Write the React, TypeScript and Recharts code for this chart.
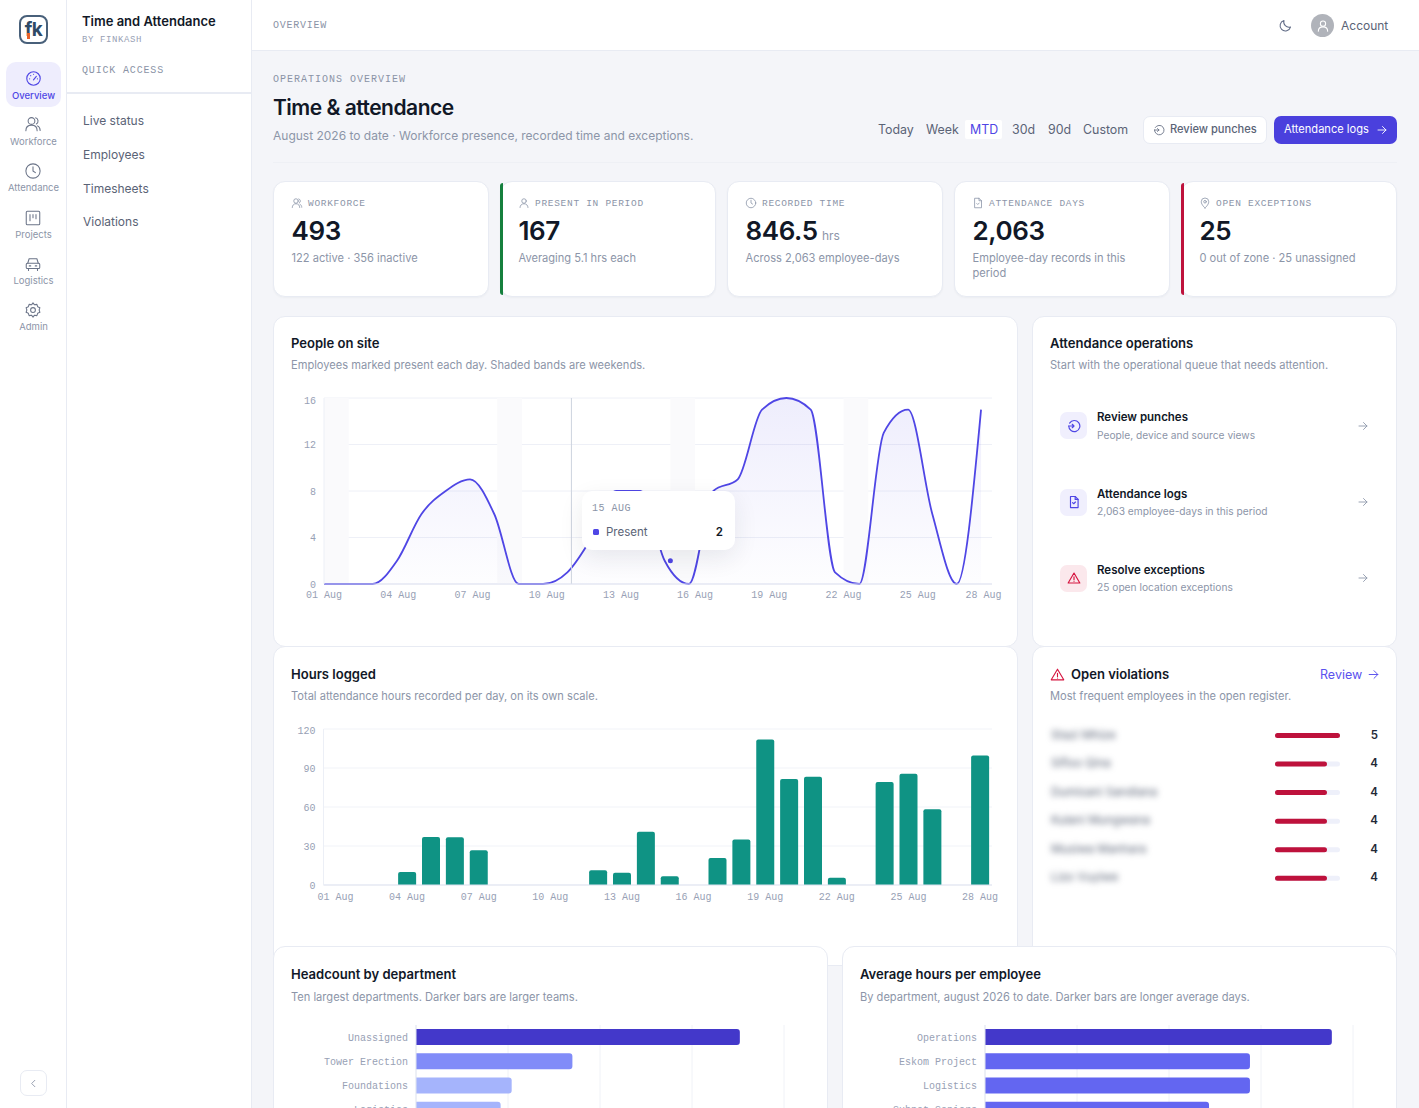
import React from 'react';
import {
  AreaChart, Area, BarChart, Bar, Cell, XAxis, YAxis, CartesianGrid,
  ReferenceArea, ReferenceLine, ReferenceDot,
} from 'recharts';

const dayLabels = ['01 Aug','02 Aug','03 Aug','04 Aug','05 Aug','06 Aug','07 Aug','08 Aug','09 Aug','10 Aug','11 Aug','12 Aug','13 Aug','14 Aug','15 Aug','16 Aug','17 Aug','18 Aug','19 Aug','20 Aug','21 Aug','22 Aug','23 Aug','24 Aug','25 Aug','26 Aug','27 Aug','28 Aug'];
const presentValues = [0,0,0,2,6,8,9,6,0,0,1,4,8,8,2,0,8,9,15,16,15,1,0,13,15,6,0,15];
const hoursValues = [0,0,0,10,37,36.7,26.7,0,0,0,0,11.3,9.5,41,6.7,0,20.8,35,112,81.5,83.3,5.6,0,79.2,85.6,58.2,0,99.7];
const presentTicks = [0,4,8,12,16];
const hoursTicks = [0,30,60,90,120];
const dayTickIndexes = [0,3,6,9,12,15,18,21,24,27];
const weekendStarts = [0,7,14,21];
const cursorIndex = 10;
const tooltipIndex = 14;

const headcountDepartments = ['Unassigned','Tower Erection','Foundations','Logistics'];
const headcountValues = [176,85,52,46];
const headcountColors = ['#4338ca','#818cf8','#a5b4fc','#a5b4fc'];
const headcountTicks = [0,50,100,150,200];

const avgDepartments = ['Operations','Eskom Project','Logistics','Subnet Seniors'];
const avgValues = [7.54,5.76,5.76,4.87];
const avgColors = ['#4338ca','#6366f1','#6366f1','#6366f1'];
const avgTicks = [0,2,4,6,8];

const violationNames = ['Stazi Mhize','Sifiso Qina','Dumisani Sandlana','Kulani Mungwana','Musiwa Manhara','Lizo Vuyiwe'];
const violationCounts = [5,4,4,4,4,4];

const presentData = dayLabels.map((day, i) => ({ idx: i, day, present: presentValues[i] }));
const hoursData = dayLabels.map((day, i) => ({ day, hours: hoursValues[i] }));
const headcountData = headcountDepartments.map((name, i) => ({ name, value: headcountValues[i] }));
const avgData = avgDepartments.map((name, i) => ({ name, value: avgValues[i] }));
const violationData = violationNames.map((name, i) => ({ name, count: violationCounts[i] }));

const SANS = 'Inter, "Noto Sans", sans-serif';
const MONO = '"Liberation Mono", "DejaVu Sans Mono", monospace';
const INK = '#111827';
const MUTED = '#8c95a8';
const BODY = '#5a6376';
const INDIGO = '#4f46e5';
const BORDER = '#e8ebf3';
const TICK = '#98a1b5';
const TITLE = 13.05;
const SUB = 11.1;

type TProps = { x: number; y: number; size?: number; color?: string; weight?: number; mono?: boolean; ls?: number; right?: boolean; center?: boolean; style?: React.CSSProperties; children: React.ReactNode };
const T = ({ x, y, size = 12, color = INK, weight = 400, mono, ls = 0, right, center, style, children }: TProps) => (
  <div style={{
    position: 'absolute', left: x, top: y, whiteSpace: 'nowrap', lineHeight: 1,
    transform: `translate(${right ? '-100%' : center ? '-50%' : '0'}, -50%)`,
    fontSize: size, color, fontWeight: weight, letterSpacing: ls,
    fontFamily: mono ? MONO : SANS, ...style,
  }}>{children}</div>
);

const Box = ({ x, y, w, h, r = 12, bg = '#fff', border = BORDER, style }: any) => (
  <div style={{ position: 'absolute', left: x, top: y, width: w, height: h, boxSizing: 'border-box', background: bg, border: border ? `1px solid ${border}` : 'none', borderRadius: r, ...style }} />
);

const Ico = ({ x, y, s = 16, color = MUTED, sw = 1.6, children }: any) => (
  <svg width={s} height={s} viewBox="0 0 24 24" fill="none" stroke={color} strokeWidth={sw} strokeLinecap="round" strokeLinejoin="round"
    style={{ position: 'absolute', left: x - s / 2, top: y - s / 2 }}>{children}</svg>
);

const users = <><circle cx="10" cy="8" r="4.5" /><path d="M2.5 21c0-4.5 3-7.5 7.5-7.5s7.5 3 7.5 7.5" /><path d="M15.5 3.8a4.5 4.5 0 0 1 1 8.2M18 14.5c2.2 1 3.5 3.4 3.5 6" /></>;
const user = <><circle cx="12" cy="8" r="4.5" /><path d="M4 21c0-4.5 3.5-7.5 8-7.5s8 3 8 7.5" /></>;
const clock = <><circle cx="12" cy="12" r="9.5" /><path d="M12 6.5V12l3.2 2.2" /></>;
const file = <><path d="M6 2.5h8l5 5v14H6z" /><path d="M14 2.5v5h5M9.5 13l2 2 3-3" /></>;
const pin = <><path d="M12 22s7.5-6.5 7.5-12.5a7.5 7.5 0 0 0-15 0C4.5 15.5 12 22 12 22z" /><circle cx="12" cy="9.5" r="2.6" /></>;
const gauge = <><circle cx="12" cy="12" r="9.5" /><path d="M12 14l4-5M6.5 12.5h.1M8 8h.1M12 6h.1M17.5 12.5h.1" /></>;
const board = <><rect x="3" y="3" width="18" height="18" rx="1.5" /><path d="M8 7.5v8M12 7.5v4M16 7.5v5.5" /></>;
const car = <><path d="M5 11l1.8-6h10.4L19 11" /><rect x="3" y="11" width="18" height="7" rx="1.5" /><path d="M6 18v2.5M18 18v2.5M7 14.5h2M15 14.5h2" /></>;
const gear = <><circle cx="12" cy="12" r="3.2" /><path d="M12 2.5l2 2.6 3.2-.6 1 3.1 3 1.3-1 3.1 1 3.1-3 1.3-1 3.1-3.2-.6-2 2.6-2-2.6-3.2.6-1-3.1-3-1.3 1-3.1-1-3.1 3-1.3 1-3.1 3.2.6z" /></>;
const arrow = <path d="M4 12h16M13 5l7 7-7 7" />;
const history = <><path d="M4.5 7A9.5 9.5 0 1 1 3 12" /><path d="M3 12h9M9 9l3 3-3 3" /></>;
const warn = <><path d="M12 3.5L22 20.5H2z" /><path d="M12 10v5M12 17.6h.1" /></>;
const moon = <path d="M20 14.5A8.5 8.5 0 0 1 9.5 4a8.5 8.5 0 1 0 10.5 10.5z" />;
const chevron = <path d="M15 5l-7 7 7 7" />;

const navItems: [string, React.ReactNode, number, number][] = [
  ['Workforce', users, 124, 141.5],
  ['Attendance', clock, 171, 188],
  ['Projects', board, 218, 234.5],
  ['Logistics', car, 264, 281],
  ['Admin', gear, 310, 327],
];
const quickLinks: [string, number][] = [['Live status', 120.5], ['Employees', 154.5], ['Timesheets', 188.5], ['Violations', 221.5]];
const ranges: [string, number][] = [['Today', 878], ['Week', 926], ['30d', 1012], ['90d', 1048], ['Custom', 1083]];

const Kpi = ({ x, icon, label, value, unit, unitX, sub, sub2, accent }: any) => (
  <>
    <Box x={x} y={181} w={216} h={116} style={{ boxShadow: '0 1px 2px rgba(30,41,59,.04)' }} />
    {accent && <div style={{ position: 'absolute', left: x, top: 183, width: 3, height: 112, background: accent, borderRadius: '3px 0 0 3px' }} />}
    <Ico x={x + 24} y={203} s={12} color={MUTED} sw={1.6}>{icon}</Ico>
    <T x={x + 35} y={203.5} size={9.5} mono ls={0.7} color={MUTED}>{label}</T>
    <T x={x + 18.5} y={231} size={26} weight={600} ls={-0.4}>{value}</T>
    {unit && <T x={unitX} y={236} size={12} color={MUTED}>{unit}</T>}
    <T x={x + 18.5} y={259} size={SUB} color={MUTED}>{sub}</T>
    {sub2 && <T x={x + 18.5} y={274} size={SUB} color={MUTED}>{sub2}</T>}
  </>
);

const OpItem = ({ y, icon, bg, color, title, sub }: any) => (
  <>
    <div style={{ position: 'absolute', left: 1060, top: y - 13.5, width: 27, height: 27, borderRadius: 7, background: bg }} />
    <Ico x={1073.5} y={y} s={14} color={color} sw={2}>{icon}</Ico>
    <T x={1097} y={y - 7.5} size={11.5} weight={600}>{title}</T>
    <T x={1097} y={y + 9} size={10.2} color={MUTED}>{sub}</T>
    <Ico x={1363} y={y} s={12} color="#8f98ab" sw={1.8}>{arrow}</Ico>
  </>
);

const tickStyle = { fontFamily: MONO, fontSize: 10, fill: TICK };

// the last day label is pulled back inside the plot, as in the reference
const PresentTick = ({ x, y, payload }: any) => (
  <text x={payload.value === 27 ? x - 8.5 : x} y={y} textAnchor="middle" dominantBaseline="central" {...tickStyle}>
    {dayLabels[payload.value]}
  </text>
);

// the top value label sits just under its grid line, as in the reference
const topTick = (top: number, shift: number) => ({ x, y, payload }: any) => (
  <text x={x} y={payload.value === top ? y + shift : y + 1} textAnchor="end" dominantBaseline="central" {...tickStyle}>
    {payload.value}
  </text>
);
const PresentYTick = topTick(16, 3);
const HoursYTick = topTick(120, 2.5);

const HBars = ({ data, colors, ticks, domainMax, left, top }: any) => (
  <div style={{ position: 'absolute', left, top }}>
    <BarChart width={554} height={108} data={data} layout="vertical" margin={{ top: 11, right: 43, bottom: 0, left: 0 }}>
      <CartesianGrid horizontal={false} stroke="#f0f2f7" />
      <XAxis type="number" hide domain={[0, domainMax]} ticks={ticks} />
      <YAxis type="category" dataKey="name" width={143} tickLine={false} axisLine={{ stroke: '#e3e6f0' }} tick={tickStyle} tickMargin={2} interval={0} />
      <Bar dataKey="value" barSize={16} radius={[0, 3, 3, 0]} isAnimationActive={false}>
        {data.map((d: any, i: number) => <Cell key={d.name} fill={colors[i]} />)}
      </Bar>
    </BarChart>
  </div>
);

export default function App() {
  return (
    <div style={{ position: 'fixed', left: 0, top: 0, width: 1419, height: 1108, overflow: 'hidden', background: '#f4f5f9', fontFamily: SANS }}>
      {/* rail */}
      <div style={{ position: 'absolute', left: 0, top: 0, width: 67, height: 1108, background: '#fff', borderRight: `1px solid ${BORDER}`, boxSizing: 'border-box' }} />
      <div style={{ position: 'absolute', left: 19, top: 15, width: 29, height: 29, boxSizing: 'border-box', border: '2px solid #48607a', borderRadius: 8 }} />
      <T x={33.5} y={29} size={19} weight={700} center color="#2f4a66" ls={-0.5}>f<span style={{ color: '#2f4a66' }}>k</span></T>
      <div style={{ position: 'absolute', left: 27, top: 33, width: 2.5, height: 6, background: '#e8622c' }} />
      <div style={{ position: 'absolute', left: 6, top: 62, width: 55, height: 45, background: '#eeedfd', borderRadius: 10 }} />
      <Ico x={33} y={78} s={17} color={INDIGO}>{gauge}</Ico>
      <T x={33.5} y={95.5} size={9.5} center weight={500} color={INDIGO}>Overview</T>
      {navItems.map(([label, icon, iy, ly]) => (
        <React.Fragment key={label}>
          <Ico x={33} y={iy} s={18} color="#6b7488" sw={1.4}>{icon}</Ico>
          <T x={33.5} y={ly} size={9.5} center color={MUTED}>{label}</T>
        </React.Fragment>
      ))}
      <Box x={20} y={1070} w={27} h={26} r={7} />
      <Ico x={33.5} y={1083} s={11} color="#8f98ab" sw={2}>{chevron}</Ico>

      {/* secondary sidebar */}
      <div style={{ position: 'absolute', left: 67, top: 0, width: 185, height: 1108, background: '#fff', borderRight: `1px solid ${BORDER}`, boxSizing: 'border-box' }} />
      <T x={82} y={21} size={13} weight={600}>Time and Attendance</T>
      <T x={82} y={39.5} size={9} mono ls={0.6} color={TICK}>BY FINKASH</T>
      <T x={82} y={71} size={10} mono ls={0.83} color="#8a93a6">QUICK ACCESS</T>
      <div style={{ position: 'absolute', left: 67, top: 92, width: 184, height: 1.5, background: BORDER }} />
      {quickLinks.map(([label, y]) => <T key={label} x={83} y={y} size={12} color={BODY}>{label}</T>)}

      {/* top bar */}
      <div style={{ position: 'absolute', left: 252, top: 0, width: 1167, height: 51, background: '#fff', borderBottom: `1px solid ${BORDER}`, boxSizing: 'border-box' }} />
      <T x={273} y={25.5} size={10} mono ls={0.75} color="#8a93a6">OVERVIEW</T>
      <Ico x={1285} y={25} s={15} color="#5f6a85" sw={1.7}>{moon}</Ico>
      <div style={{ position: 'absolute', left: 1311, top: 14, width: 23, height: 23, borderRadius: 12, background: '#b0b3ba' }} />
      <Ico x={1322.5} y={25.5} s={14} color="#fff" sw={1.8}>{user}</Ico>
      <T x={1341} y={25.5} size={12} color={BODY}>Account</T>

      {/* page header */}
      <T x={273} y={80} size={10} mono ls={1} color="#8a93a6">OPERATIONS OVERVIEW</T>
      <T x={273} y={107} size={21} weight={600} ls={-0.5}>Time &amp; attendance</T>
      <T x={273} y={135.5} size={12} color={MUTED}>August 2026 to date · Workforce presence, recorded time and exceptions.</T>
      {ranges.map(([label, x]) => <T key={label} x={x} y={130} size={12.4} color={BODY}>{label}</T>)}
      <div style={{ position: 'absolute', left: 965, top: 120, width: 37, height: 19, background: '#fff', borderRadius: 2 }} />
      <T x={970} y={130} size={12.4} color={INDIGO} weight={400}>MTD</T>
      <Box x={1143} y={116} w={124} h={28} r={7} />
      <Ico x={1159} y={130} s={12} color="#6b7488" sw={1.8}>{history}</Ico>
      <T x={1170} y={130} size={11.1} weight={500} color={BODY}>Review punches</T>
      <Box x={1274} y={116} w={123} h={28} r={7} bg="#4a40dd" border={null} />
      <T x={1284} y={130} size={11.1} weight={400} color="#fff">Attendance logs</T>
      <Ico x={1382} y={130} s={12} color="#fff" sw={1.8}>{arrow}</Ico>
      <div style={{ position: 'absolute', left: 273, top: 162, width: 1124, height: 1, background: '#eef0f5' }} />

      {/* KPIs */}
      <Kpi x={273} icon={users} label="WORKFORCE" value="493" sub="122 active · 356 inactive" />
      <Kpi x={500} icon={user} label="PRESENT IN PERIOD" value="167" sub="Averaging 5.1 hrs each" accent="#15803d" />
      <Kpi x={727} icon={clock} label="RECORDED TIME" value="846.5" unit="hrs" unitX={822} sub="Across 2,063 employee-days" />
      <Kpi x={954} icon={file} label="ATTENDANCE DAYS" value="2,063" sub="Employee-day records in this" sub2="period" />
      <Kpi x={1181} icon={pin} label="OPEN EXCEPTIONS" value="25" sub="0 out of zone · 25 unassigned" accent="#be123c" />

      {/* People on site */}
      <Box x={273} y={316} w={745} h={331} />
      <T x={291} y={343.5} size={TITLE} weight={600}>People on site</T>
      <T x={291} y={365.5} size={SUB} color={MUTED}>Employees marked present each day. Shaded bands are weekends.</T>
      <div style={{ position: 'absolute', left: 273, top: 385 }}>
        <AreaChart width={744} height={230} data={presentData} margin={{ top: 13, right: 25, bottom: 0, left: 0 }}>
          <defs>
            <linearGradient id="presentFill" x1="0" y1="0" x2="0" y2="1">
              <stop offset="0%" stopColor={INDIGO} stopOpacity={0.16} />
              <stop offset="100%" stopColor={INDIGO} stopOpacity={0.015} />
            </linearGradient>
          </defs>
          {weekendStarts.map((s) => (
            <ReferenceArea key={s} x1={s} x2={s + 1} fill="#fafafc" fillOpacity={1} stroke="none" ifOverflow="visible" />
          ))}
          <CartesianGrid vertical={false} stroke="#eef0f7" />
          <XAxis type="number" dataKey="idx" domain={[0, 27]} ticks={dayTickIndexes} height={31} tickLine={false} axisLine={{ stroke: '#dfe3f0' }} tick={<PresentTick />} tickMargin={5} interval={0} />
          <XAxis xAxisId="line" type="number" dataKey="idx" domain={[0, 27.45]} hide allowDataOverflow />
          <YAxis width={51} domain={[0, 16]} ticks={presentTicks} tickLine={false} axisLine={{ stroke: '#eceff6' }} tick={<PresentYTick />} tickMargin={2} interval={0} />
          <ReferenceLine x={cursorIndex} stroke="#cdd3df" strokeWidth={1} />
          <Area xAxisId="line" type="monotone" dataKey="present" stroke={INDIGO} strokeWidth={1.8} fill="url(#presentFill)" isAnimationActive={false} dot={false} activeDot={false} />
          <ReferenceDot x={tooltipIndex} y={presentValues[tooltipIndex]} r={2.5} fill={INDIGO} stroke="none" />
        </AreaChart>
      </div>
      <div style={{ position: 'absolute', left: 582, top: 491, width: 153, height: 59, background: '#fff', borderRadius: 10, boxShadow: '0 8px 24px rgba(30,41,59,.09)' }} />
      <T x={592} y={509} size={10} mono ls={0.5} color={MUTED}>{dayLabels[tooltipIndex].toUpperCase()}</T>
      <div style={{ position: 'absolute', left: 593, top: 529, width: 6, height: 6, borderRadius: 1.5, background: INDIGO }} />
      <T x={606} y={533} size={11.5} color={BODY}>Present</T>
      <T x={723} y={532.5} size={11.5} weight={600} right>{presentValues[tooltipIndex]}</T>

      {/* Attendance operations */}
      <Box x={1032} y={316} w={365} h={331} />
      <T x={1050} y={343.5} size={TITLE} weight={600}>Attendance operations</T>
      <T x={1050} y={365.5} size={SUB} color={MUTED}>Start with the operational queue that needs attention.</T>
      <OpItem y={425.5} icon={history} bg="#f0effd" color={INDIGO} title="Review punches" sub="People, device and source views" />
      <OpItem y={502} icon={file} bg="#f0effd" color={INDIGO} title="Attendance logs" sub="2,063 employee-days in this period" />
      <OpItem y={578} icon={warn} bg="#fbe8ec" color="#d6143f" title="Resolve exceptions" sub="25 open location exceptions" />

      {/* Hours logged */}
      <Box x={273} y={646} w={745} h={320} />
      <T x={291} y={675} size={TITLE} weight={600}>Hours logged</T>
      <T x={291} y={696.5} size={SUB} color={MUTED}>Total attendance hours recorded per day, on its own scale.</T>
      <div style={{ position: 'absolute', left: 273, top: 716 }}>
        <BarChart width={744} height={200} data={hoursData} margin={{ top: 13, right: 25, bottom: 0, left: 0 }}>
          <CartesianGrid vertical={false} stroke="#f1f3f8" />
          <XAxis dataKey="day" height={31} tickLine={false} axisLine={{ stroke: '#dfe3f0' }} tick={tickStyle} tickMargin={2} interval={2} />
          <YAxis width={50.5} domain={[0, 120]} ticks={hoursTicks} tickLine={false} axisLine={{ stroke: '#eceff6' }} tick={<HoursYTick />} tickMargin={2} interval={0} />
          <Bar dataKey="hours" fill="#0f9384" barSize={18} radius={[2, 2, 0, 0]} isAnimationActive={false} />
        </BarChart>
      </div>

      {/* Open violations */}
      <Box x={1032} y={646} w={365} h={320} />
      <Ico x={1057} y={674} s={15} color="#d6143f" sw={1.8}>{warn}</Ico>
      <T x={1071} y={675} size={TITLE} weight={600}>Open violations</T>
      <T x={1320} y={675} size={12.5} weight={400} color="#5b52ee">Review</T>
      <Ico x={1373} y={674} s={13} color="#5b52ee" sw={1.8}>{arrow}</Ico>
      <T x={1050} y={696.5} size={SUB} color={MUTED}>Most frequent employees in the open register.</T>
      {violationData.map((d, i) => (
        <React.Fragment key={d.name}>
          <T x={1051} y={735.5 + i * 28.55} size={11.8} color={BODY} style={{ filter: 'blur(3px)' }}>{d.name}</T>
          <T x={1378} y={735.5 + i * 28.55} size={11.5} weight={600} color="#1f2937" right>{d.count}</T>
        </React.Fragment>
      ))}
      <div style={{ position: 'absolute', left: 1275, top: 720.5 }}>
        <BarChart width={65} height={171.3} data={violationData} layout="vertical" margin={{ top: 0, right: 0, bottom: 0, left: 0 }}>
          <XAxis type="number" hide domain={[0, 5]} />
          <YAxis type="category" dataKey="name" hide />
          <Bar dataKey="count" barSize={5} fill="#be123c" radius={2.5} background={{ fill: '#eef0fa', radius: 2.5 }} isAnimationActive={false} />
        </BarChart>
      </div>

      {/* Bottom cards */}
      <Box x={273} y={946} w={555} h={200} />
      <T x={291} y={974.5} size={TITLE} weight={600}>Headcount by department</T>
      <T x={291} y={997.5} size={SUB} color={MUTED}>Ten largest departments. Darker bars are larger teams.</T>
      <HBars data={headcountData} colors={headcountColors} ticks={headcountTicks} domainMax={200} left={273} top={1014} />

      <Box x={842} y={946} w={555} h={200} />
      <T x={860} y={974.5} size={TITLE} weight={600}>Average hours per employee</T>
      <T x={860} y={997.5} size={SUB} color={MUTED}>By department, august 2026 to date. Darker bars are longer average days.</T>
      <HBars data={avgData} colors={avgColors} ticks={avgTicks} domainMax={8} left={842} top={1014} />
    </div>
  );
}
